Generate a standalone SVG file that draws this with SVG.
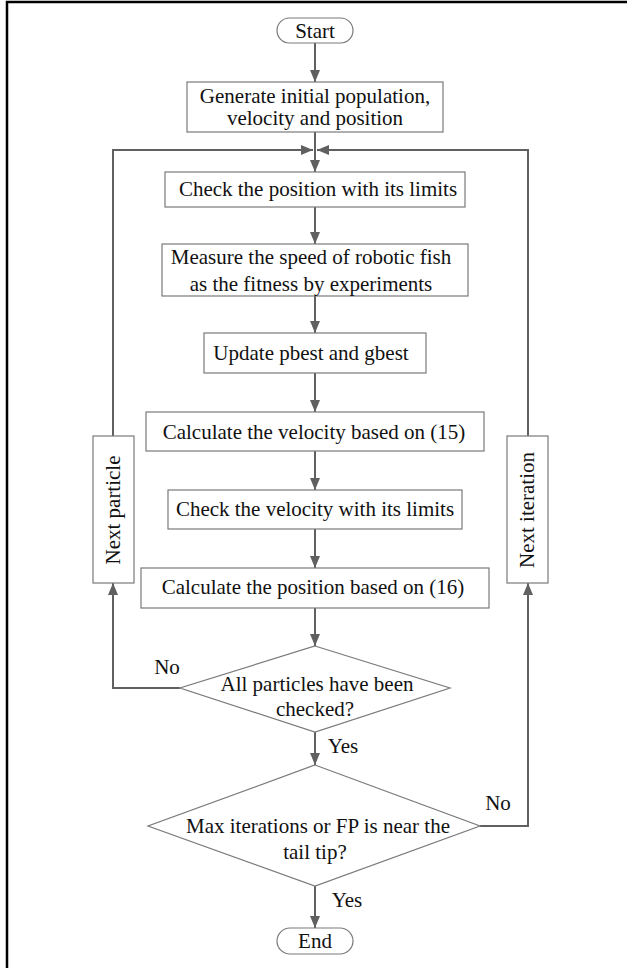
<svg xmlns="http://www.w3.org/2000/svg" width="627" height="968" viewBox="0 0 627 968">
<style>
  .box{fill:#fff;stroke:#7a7a7a;stroke-width:1.2}
  .t{font-family:"Liberation Serif","Times New Roman",serif;font-size:21px;fill:#111;text-anchor:middle}
  .c{fill:none;stroke:#606060;stroke-width:2}
</style>
<defs>
  <marker id="ah" viewBox="0 0 12 10" refX="12" refY="5" markerWidth="12" markerHeight="10" markerUnits="userSpaceOnUse" orient="auto">
    <path d="M0,0 L12,5 L0,10 Z" fill="#606060"/>
  </marker>
</defs>
<rect width="627" height="968" fill="#fff"/>
<path d="M7,968 V2 H627" fill="none" stroke="#000" stroke-width="2.5"/>

<g id="connectors">
  <line class="c" x1="315" y1="43" x2="315" y2="82" marker-end="url(#ah)"/>
  <line class="c" x1="315" y1="132" x2="315" y2="172" marker-end="url(#ah)"/>
  <polyline class="c" points="113,436 113,150 313,150" marker-end="url(#ah)"/>
  <polyline class="c" points="528,436 528,150 317,150" marker-end="url(#ah)"/>
  <line class="c" x1="315" y1="207" x2="315" y2="244" marker-end="url(#ah)"/>
  <line class="c" x1="315" y1="296" x2="315" y2="333" marker-end="url(#ah)"/>
  <line class="c" x1="315" y1="373" x2="315" y2="412" marker-end="url(#ah)"/>
  <line class="c" x1="315" y1="451" x2="315" y2="490" marker-end="url(#ah)"/>
  <line class="c" x1="315" y1="529" x2="315" y2="568" marker-end="url(#ah)"/>
  <line class="c" x1="315" y1="608" x2="315" y2="646" marker-end="url(#ah)"/>
  <polyline class="c" points="180,688 113,688 113,583" marker-end="url(#ah)"/>
  <line class="c" x1="315" y1="732" x2="315" y2="765" marker-end="url(#ah)"/>
  <polyline class="c" points="480,826 528,826 528,583" marker-end="url(#ah)"/>
  <line class="c" x1="315" y1="886" x2="315" y2="928" marker-end="url(#ah)"/>
  <text class="t" x="167" y="674">No</text>
  <text class="t" x="343" y="753">Yes</text>
  <text class="t" x="498" y="810">No</text>
  <text class="t" x="347" y="907">Yes</text>
</g>

<g id="start">
  <rect class="box" x="277" y="18" width="76" height="25" rx="12.5"/>
  <text class="t" x="315" y="38">Start</text>
</g>
<g id="generate">
  <rect class="box" x="187" y="82" width="256" height="50"/>
  <text class="t" x="315" y="103">Generate initial population,</text>
  <text class="t" x="315" y="125">velocity and position</text>
</g>
<g id="check-position">
  <rect class="box" x="165" y="172" width="300" height="35"/>
  <text class="t" x="318" y="196">Check the position with its limits</text>
</g>
<g id="measure">
  <rect class="box" x="162" y="244" width="306" height="52"/>
  <text class="t" x="311" y="264">Measure the speed of robotic fish</text>
  <text class="t" x="311" y="291">as the fitness by experiments</text>
</g>
<g id="update">
  <rect class="box" x="204" y="333" width="222" height="40"/>
  <text class="t" x="311" y="360">Update pbest and gbest</text>
</g>
<g id="calc-velocity">
  <rect class="box" x="146" y="412" width="338" height="39"/>
  <text class="t" x="314" y="439">Calculate the velocity based on (15)</text>
</g>
<g id="check-velocity">
  <rect class="box" x="168" y="490" width="294" height="39"/>
  <text class="t" x="315" y="516">Check the velocity with its limits</text>
</g>
<g id="calc-position">
  <rect class="box" x="141" y="568" width="348" height="40"/>
  <text class="t" x="313" y="594">Calculate the position based on (16)</text>
</g>
<g id="next-particle">
  <rect class="box" x="93" y="436" width="41" height="147"/>
  <text class="t" transform="translate(120,510) rotate(-90)">Next particle</text>
</g>
<g id="next-iteration">
  <rect class="box" x="507" y="436" width="41" height="147"/>
  <text class="t" transform="translate(534,510) rotate(-90)">Next iteration</text>
</g>
<g id="all-checked">
  <polygon class="box" points="315,646 450,688 315,732 180,688"/>
  <text class="t" x="317" y="691">All particles have been</text>
  <text class="t" x="315" y="716">checked?</text>
</g>
<g id="max-iter">
  <polygon class="box" points="315,765 480,826 315,886 148,826"/>
  <text class="t" x="318" y="833">Max iterations or FP is near the</text>
  <text class="t" x="315" y="859">tail tip?</text>
</g>
<g id="end">
  <rect class="box" x="277" y="928" width="76" height="26" rx="13"/>
  <text class="t" x="315" y="948">End</text>
</g>
</svg>
